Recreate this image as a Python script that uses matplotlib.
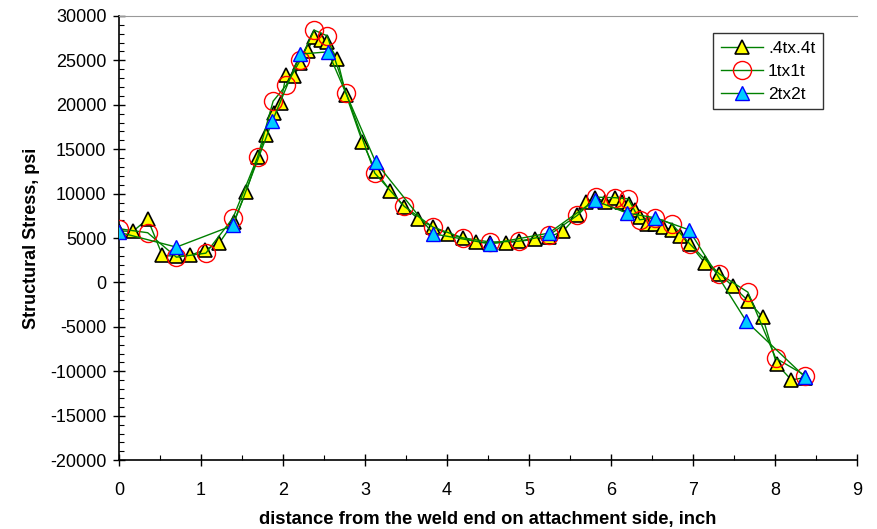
import numpy as np
import matplotlib.pyplot as plt
from matplotlib.ticker import MultipleLocator

plt.rcParams['font.family'] = ['Liberation Sans', 'DejaVu Sans']
plt.rcParams['axes.unicode_minus'] = False

# .4tx.4t mesh
x_04 = [0.00, 0.17, 0.35, 0.53, 0.70, 0.87, 1.05, 1.22, 1.40, 1.55, 1.69, 1.79,
        1.89, 1.97, 2.04, 2.14, 2.21, 2.30, 2.38, 2.46, 2.54, 2.66, 2.77, 2.97,
        3.13, 3.31, 3.48, 3.65, 3.83, 4.01, 4.19, 4.36, 4.53, 4.72, 4.88, 5.07,
        5.24, 5.42, 5.59, 5.70, 5.81, 5.93, 6.05, 6.13, 6.22, 6.29, 6.35, 6.44,
        6.54, 6.63, 6.75, 6.84, 6.96, 7.15, 7.32, 7.49, 7.67, 7.85, 8.02, 8.20, 8.37]
y_04 = [5800, 5750, 7150, 3050, 2950, 3050, 3700, 4400, 6800, 10200, 14100, 16550,
        19100, 20150, 23400, 23250, 24700, 26100, 27600, 27300, 27100, 25200, 21100, 15800,
        12550, 10300, 8500, 7170, 6230, 5480, 5030, 4540, 4450, 4470, 4650, 4840,
        5100, 5800, 7550, 9100, 9550, 9100, 9500, 9050, 8860, 8100, 7350, 6600,
        6600, 6230, 5930, 5180, 4300, 2150, 980, -450, -2030, -3900, -9160, -10960, -10700]

# 1tx1t mesh
x_1 = [0.00, 0.35, 0.70, 1.06, 1.39, 1.69, 1.88, 2.04, 2.21, 2.38, 2.54, 2.77,
       3.12, 3.48, 3.83, 4.19, 4.53, 4.88, 5.24, 5.59, 5.82, 6.05, 6.21, 6.35,
       6.54, 6.74, 6.96, 7.32, 7.67, 8.01, 8.37]
y_1 = [6050, 5600, 2850, 3300, 7250, 14100, 20400, 22200, 25000, 28400, 27750, 21300,
       12300, 8560, 6230, 5030, 4550, 4650, 5300, 7550, 9600, 9540, 9420, 7060,
       7280, 6600, 4360, 980, -1090, -8520, -10470]

# 2tx2t mesh
x_2 = [0.00, 0.70, 1.39, 1.87, 2.21, 2.55, 3.13, 3.83, 4.53, 5.24, 5.80, 6.20,
       6.54, 6.95, 7.65, 8.37]
y_2 = [5650, 3980, 6420, 18150, 25700, 25950, 13550, 5480, 4350, 5550, 9230, 7800,
       7280, 5930, -4360, -10660]

fig = plt.figure(figsize=(8.78, 5.29), dpi=100)
ax = fig.add_axes([0.1355, 0.130, 0.8405, 0.840])

ax.plot(x_04, y_04, color='green', lw=1, marker='^', ms=10, mfc='yellow',
        mec='black', mew=1.2, label='.4tx.4t', zorder=3)
ax.plot(x_1, y_1, color='green', lw=1, marker='o', ms=13, mfc='none',
        mec='red', mew=1, label='1tx1t', zorder=4)
ax.plot(x_2, y_2, color='green', lw=1, marker='^', ms=10, mfc='#00ccff',
        mec='blue', mew=1, label='2tx2t', zorder=5)

ax.set_xlim(0, 9)
ax.set_ylim(-20000, 30000)
ax.xaxis.set_major_locator(MultipleLocator(1))
ax.xaxis.set_minor_locator(MultipleLocator(0.5))
ax.yaxis.set_major_locator(MultipleLocator(5000))
ax.yaxis.set_minor_locator(MultipleLocator(1000))
ax.tick_params(which='major', direction='inout', length=8, width=1, labelsize=13)
ax.tick_params(axis='x', which='major', pad=12)
ax.tick_params(axis='y', which='major', pad=5)
ax.tick_params(which='minor', direction='in', length=3.5, width=0.8)

ax.spines['right'].set_visible(False)
ax.spines['top'].set_color('#999999')
ax.spines['left'].set_linewidth(1.2)
ax.spines['bottom'].set_linewidth(1.2)

ax.set_xlabel('distance from the weld end on attachment side, inch',
              fontsize=13.2, fontweight='bold', labelpad=8)
ax.set_ylabel('Structural Stress, psi', fontsize=13, fontweight='bold', labelpad=7)

leg = ax.legend(loc='upper right', bbox_to_anchor=(0.954, 0.962), fontsize=12.5,
                frameon=True, fancybox=False, handlelength=2.4, borderpad=0.45,
                labelspacing=0.45, handletextpad=0.3, borderaxespad=0)
leg.get_frame().set_edgecolor('black')
leg.get_frame().set_linewidth(1)

fig.savefig('out.png', dpi=100)
